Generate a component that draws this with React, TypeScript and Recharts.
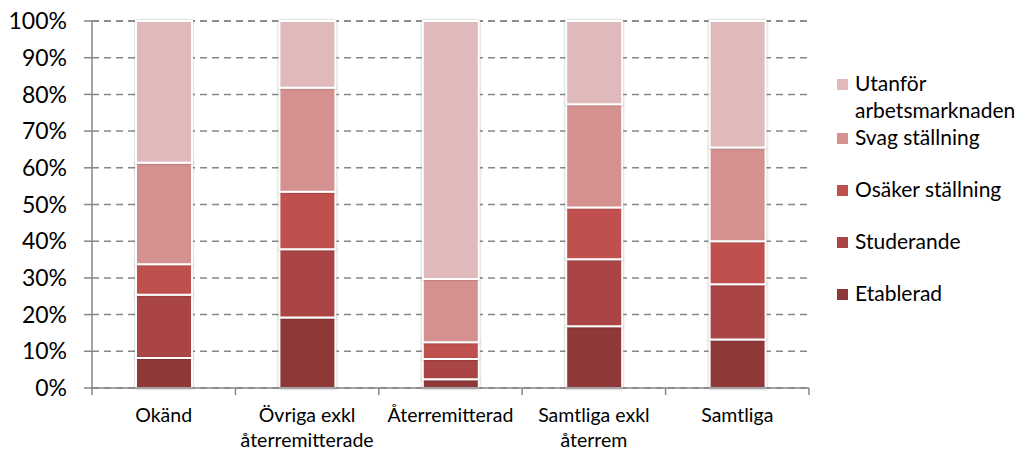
import React from "react";
import { BarChart, Bar, XAxis, YAxis, CartesianGrid } from "recharts";

const categories = [
  "Okänd",
  "Övriga exkl\nåterremitterade",
  "Återremitterad",
  "Samtliga exkl\nåterrem",
  "Samtliga",
];
const etablerad = [8.2, 19.2, 2.4, 16.8, 13.2];
const studerande = [17.2, 18.6, 5.5, 18.3, 15.1];
const osaker = [8.3, 15.7, 4.6, 14.1, 11.7];
const svag = [27.7, 28.3, 17.2, 28.1, 25.5];
const utanfor = [38.6, 18.2, 70.3, 22.7, 34.5];
const yTicks = [0, 10, 20, 30, 40, 50, 60, 70, 80, 90, 100];

const series = [
  { key: "etablerad", name: "Etablerad", color: "#8e3837", values: etablerad },
  { key: "studerande", name: "Studerande", color: "#a94544", values: studerande },
  { key: "osaker", name: "Osäker ställning", color: "#c0504d", values: osaker },
  { key: "svag", name: "Svag ställning", color: "#d49190", values: svag },
  { key: "utanfor", name: "Utanför\narbetsmarknaden", color: "#e0babb", values: utanfor },
];

const data = categories.map((name, i) => {
  const row: any = { name };
  series.forEach((s) => (row[s.key] = s.values[i]));
  return row;
});

const FONT = "Lato, 'Liberation Sans', sans-serif";
const AXIS = "#868686";
const PLOT_W = 1030 - 92 - 221;
const BAND = PLOT_W / categories.length;

// legend baselines (top to bottom)
const legendBaselines = [91, 145, 197, 249, 301];

const CategoryTick = ({ x, y, payload, index }: any) => {
  const lines = String(payload.value).split("\n");
  return (
    <g>
      <line x1={x - BAND / 2} x2={x - BAND / 2} y1={y} y2={y + 7} stroke={AXIS} strokeWidth={1.5} />
      {index === categories.length - 1 && (
        <line x1={x + BAND / 2} x2={x + BAND / 2} y1={y} y2={y + 7} stroke={AXIS} strokeWidth={1.5} />
      )}
      <text x={x} y={y + 34} textAnchor="middle" fontSize={19.5} fontFamily={FONT} fill="#000">
        {lines.map((l, i) => (
          <tspan key={i} x={x} dy={i === 0 ? 0 : 25}>
            {l}
          </tspan>
        ))}
      </text>
    </g>
  );
};

const SideLegend = () => {
  const items = [...series].reverse();
  return (
    <svg
      width={200}
      height={320}
      style={{ position: "absolute", left: 830, top: 0, fontFamily: FONT }}
    >
      {items.map((s, i) => {
        const lines = s.name.split("\n");
        const b = legendBaselines[i];
        return (
          <g key={s.key}>
            <rect x={7} y={b - 12} width={11} height={11} fill={s.color} />
            <text x={25} y={b} fontSize={21} fill="#000">
              {lines.map((l, j) => (
                <tspan key={j} x={25} dy={j === 0 ? 0 : 27}>
                  {l}
                </tspan>
              ))}
            </text>
          </g>
        );
      })}
    </svg>
  );
};

export default function App() {
  return (
    <div style={{ position: "absolute", left: 0, top: 0, width: 1030, height: 450, background: "#fff" }}>
      <style>{".recharts-bar-rectangles{filter:drop-shadow(0 0 1px rgba(0,0,0,0.3))}"}</style>
      <BarChart
        width={1030}
        height={450}
        data={data}
        margin={{ top: 21, right: 221, left: 0, bottom: 0 }}
        barSize={56}
      >
        <CartesianGrid
          vertical={false}
          stroke={AXIS}
          strokeWidth={1.5}
          strokeDasharray="7 5"
        />
        <XAxis
          dataKey="name"
          height={62}
          interval={0}
          tickSize={0}
          tickMargin={0}
          axisLine={{ stroke: AXIS, strokeWidth: 1.5 }}
          tickLine={false}
          tick={<CategoryTick />}
        />
        <YAxis
          width={92}
          domain={[0, 100]}
          ticks={yTicks}
          interval={0}
          tickFormatter={(v: number) => `${v}%`}
          tickSize={8}
          tickMargin={17}
          axisLine={{ stroke: AXIS, strokeWidth: 1.5 }}
          tickLine={{ stroke: AXIS, strokeWidth: 1.5 }}
          tick={{ fontSize: 23, fontFamily: FONT, fill: "#000" }}
        />
        {series.map((s) => (
          <Bar
            key={s.key}
            dataKey={s.key}
            name={s.name}
            stackId="a"
            fill={s.color}
            stroke="#fff"
            strokeWidth={2}
            isAnimationActive={false}
          />
        ))}
      </BarChart>
      <SideLegend />
    </div>
  );
}
